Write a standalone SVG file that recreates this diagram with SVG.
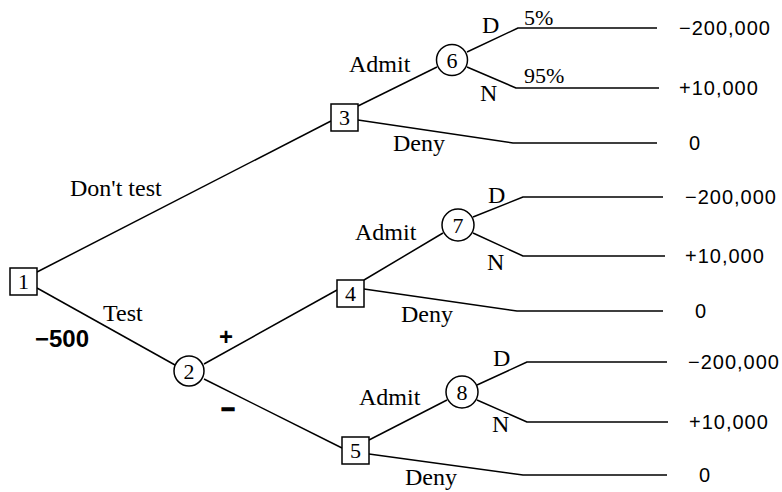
<svg xmlns="http://www.w3.org/2000/svg" width="782" height="492" viewBox="0 0 782 492">
<style>
.ln{fill:none;stroke:#000;stroke-width:1.5;stroke-linejoin:round}
.bx{fill:#fff;stroke:#000;stroke-width:1.5}
.nt{font-family:"Liberation Serif","Times New Roman",serif;font-size:22px;text-anchor:middle;fill:#000}
.lb{font-family:"Liberation Serif","Times New Roman",serif;font-size:24px;fill:#000}
.pc{font-family:"Liberation Serif","Times New Roman",serif;font-size:22px;fill:#000}
.val{font-family:"Liberation Sans",Arial,sans-serif;font-size:20px;letter-spacing:1px;fill:#000}
.bd{font-family:"Liberation Sans",Arial,sans-serif;font-size:24px;font-weight:bold;fill:#000}
</style>
<rect width="782" height="492" fill="#fff"/>
<g id="connectors">
<polyline class="ln" points="37,272 331,121"/>
<polyline class="ln" points="37,288 175,365"/>
<polyline class="ln" points="204,364 337,290"/>
<polyline class="ln" points="204,379 342,448"/>
<polyline class="ln" points="358,106 437,67"/>
<polyline class="ln" points="358,120 513,143 657,143"/>
<polyline class="ln" points="467,52 518,28 657,28"/>
<polyline class="ln" points="467,67 516,88 659,88"/>
<polyline class="ln" points="364,280 443,233"/>
<polyline class="ln" points="364,289 517,311 663,311"/>
<polyline class="ln" points="473,217 523,197 663,197"/>
<polyline class="ln" points="473,233 523,256 665,256"/>
<polyline class="ln" points="369,440 447,400"/>
<polyline class="ln" points="369,454 523,475 667,475"/>
<polyline class="ln" points="477,385 527,362 667,362"/>
<polyline class="ln" points="477,400 527,422 668,422"/>
</g>
<g id="labels">
<text class="lb" x="70" y="196">Don't test</text>
<text class="lb" x="103" y="321">Test</text>
<text class="bd" x="35" y="347">−500</text>
<text class="bd" x="226" y="345" text-anchor="middle" font-size="22">+</text>
<text class="bd" x="228" y="417" text-anchor="middle" stroke="#000" stroke-width="1.2">−</text>
<text class="lb" x="349" y="72">Admit</text>
<text class="lb" x="393" y="151">Deny</text>
<text class="lb" x="482" y="33">D</text>
<text class="lb" x="480" y="101">N</text>
<text class="pc" x="524" y="25">5%</text>
<text class="pc" x="524" y="83">95%</text>
<text class="lb" x="355" y="240">Admit</text>
<text class="lb" x="488" y="203">D</text>
<text class="lb" x="487" y="270">N</text>
<text class="lb" x="401" y="322">Deny</text>
<text class="lb" x="359" y="405">Admit</text>
<text class="lb" x="493" y="366">D</text>
<text class="lb" x="492" y="432">N</text>
<text class="lb" x="405" y="485">Deny</text>
</g>
<g id="payoffs">
<text class="val" x="679" y="35">−200,000</text>
<text class="val" x="679" y="95">+10,000</text>
<text class="val" x="689" y="150">0</text>
<text class="val" x="685" y="204">−200,000</text>
<text class="val" x="685" y="263">+10,000</text>
<text class="val" x="695" y="318">0</text>
<text class="val" x="688" y="369">−200,000</text>
<text class="val" x="689" y="429">+10,000</text>
<text class="val" x="699" y="482">0</text>
</g>
<g id="node1"><rect class="bx" x="10" y="268" width="27" height="27"/><text class="nt" x="23.5" y="289">1</text></g>
<g id="node2"><circle class="bx" cx="189" cy="371" r="15"/><text class="nt" x="189" y="378.5">2</text></g>
<g id="node3"><rect class="bx" x="331" y="104" width="27" height="27"/><text class="nt" x="344.5" y="125">3</text></g>
<g id="node4"><rect class="bx" x="337" y="280" width="27" height="27"/><text class="nt" x="350.5" y="301">4</text></g>
<g id="node5"><rect class="bx" x="342" y="437" width="27" height="27"/><text class="nt" x="355.5" y="458">5</text></g>
<g id="node6"><circle class="bx" cx="452" cy="60" r="15.5"/><text class="nt" x="452" y="67.5">6</text></g>
<g id="node7"><circle class="bx" cx="458" cy="225" r="16"/><text class="nt" x="458" y="232.5">7</text></g>
<g id="node8"><circle class="bx" cx="462" cy="392" r="16"/><text class="nt" x="462" y="399.5">8</text></g>
</svg>
